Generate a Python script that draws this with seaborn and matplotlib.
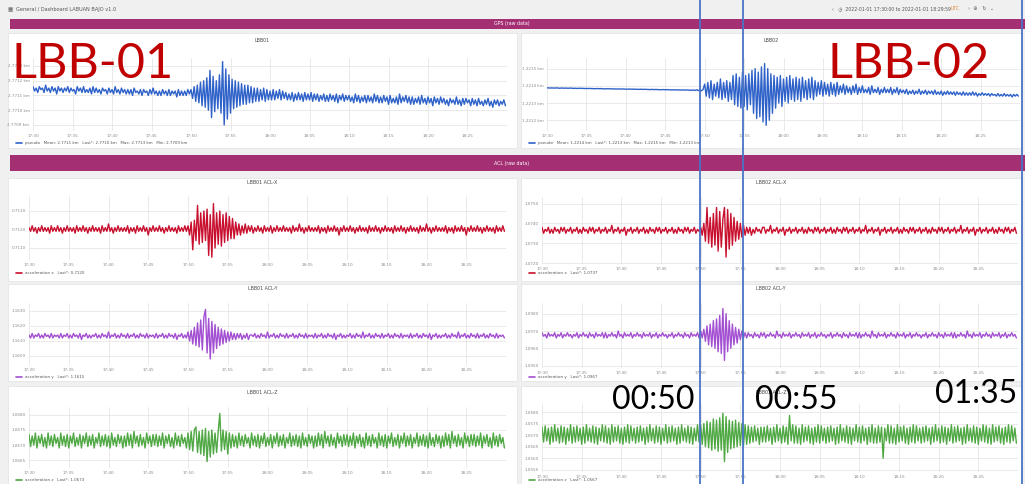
import numpy as np
import matplotlib
matplotlib.use("Agg")
import matplotlib.pyplot as plt
from matplotlib.lines import Line2D
from matplotlib.patches import Rectangle
import seaborn as sns

W, H = 1025, 484
STEP = 0.2  # minutes between samples (17:30 = 0), one row below = 4 minutes

time_ticks = [0, 5, 10, 15, 20, 25, 30, 35, 40, 45, 50, 55]
time_labels = ["17:30", "17:35", "17:40", "17:45", "17:50", "17:55",
               "18:00", "18:05", "18:10", "18:15", "18:20", "18:25"]

# ---- GPS traces (units of 1e-5 km around the panel centre) ----
lbb01_gps = [
    6, 3, 5, 2, 6, 4, 5, 2, 7, 3, 5, 2, 6, 3, 5, 1, 6, 3, 5, 2,
    5, 3, 6, 2, 5, 3, 4, 1, 6, 3, 5, 2, 6, 2, 4, 2, 5, 1, 6, 2,
    5, 2, 4, 1, 5, 3, 4, 1, 5, 2, 4, 1, 6, 2, 4, 1, 5, 2, 4, 1,
    4, 1, 4, 0, 5, 2, 3, 1, 4, 0, 4, 2, 3, 0, 4, 1, 5, 1, 3, 0,
    3, 0, 4, 1, 3, 0, 4, 0, 3, 1, 3, -1, 4, 0, 3, 0, 3, 0, 4, 1,
    4, -2, 6, -4, 7, -5, 9, -7, 10, -8, 12, -10, 17, -15, 13, -11, 10, -9, 14, -12,
    23, -20, 18, -16, 14, -12, 11, -9, 10, -8, 9, -7, 8, -6, 7, -6, 7, -5, 6, -5,
    5, -4, 5, -4, 4, -3, 5, -4, 4, -3, 3, -3, 4, -3, 3, -2, 4, -3, 3, -2,
    2, -3, 1, -3, 2, -4, 1, -3, 2, -3, 1, -4, 2, -3, 1, -3, 2, -4, 1, -3,
    1, -4, 0, -3, 1, -4, 0, -4, 1, -3, 0, -4, 1, -5, 0, -3, 1, -4, 0, -3,
    0, -4, -1, -5, 1, -4, 0, -5, -1, -4, 0, -5, 0, -4, -1, -5, 1, -4, 0, -5,
    -1, -5, 0, -4, -1, -6, 0, -5, -2, -5, -1, -6, 1, -5, -1, -4, 0, -5, -1, -6,
    -1, -6, -2, -5, -1, -6, 0, -5, -2, -6, -1, -5, -2, -7, -1, -5, -2, -6, -1, -5,
    -2, -6, -3, -7, -2, -5, -3, -6, -1, -6, -3, -7, -2, -6, -2, -5, -3, -7, -2, -6,
    -3, -7, -2, -6, -4, -7, -3, -6, -2, -7, -4, -8, -3, -6, -3, -7, -4, -6, -3, -7]
lbb02_gps = [
    8.8, 8.8, 8.7, 8.8, 8.7, 8.7, 8.8, 8.7, 8.6, 8.7, 8.7, 8.6, 8.7, 8.6, 8.6, 8.7, 8.6, 8.5, 8.6, 8.5,
    8.5, 8.6, 8.5, 8.5, 8.4, 8.5, 8.4, 8.5, 8.4, 8.4, 8.3, 8.4, 8.4, 8.3, 8.4, 8.3, 8.3, 8.2, 8.3, 8.3,
    8.2, 8.3, 8.2, 8.2, 8.1, 8.2, 8.2, 8.1, 8.2, 8.1, 8.1, 8.0, 8.1, 8.1, 8.0, 8.1, 8.0, 8.0, 7.9, 8.0,
    8.0, 7.9, 8.0, 7.9, 7.9, 7.8, 7.9, 7.9, 7.8, 7.9, 7.8, 7.8, 7.7, 7.8, 7.8, 7.7, 7.8, 7.7, 7.7, 7.6,
    7.7, 7.6, 7.7, 7.6, 7.6, 7.5, 7.6, 7.6, 7.5, 7.6, 7.5, 7.5, 7.4, 7.6, 7.3, 7.7, 7.2, 7.8, 7.1, 7.9,
    11, 4, 12, 3, 13, 2, 11, 4, 12, 3, 14, 2, 12, 3, 13, 1, 12, 2, 16, -1,
    17, -2, 15, -3, 18, -2, 16, -4, 17, -1, 19, -6, 20, -9, 18, -8, 21, -11, 23, -13,
    20, -10, 17, -6, 16, -3, 15, 0, 16, -2, 14, 1, 15, 0, 16, 2, 14, 1, 15, 2,
    14, 1, 15, 3, 13, 2, 14, 3, 15, 2, 13, 4, 12, 5, 13, 4, 12, 5, 11, 4,
    12, 5, 11, 4, 12, 5, 10, 6, 11, 5, 10, 6, 9, 5, 10, 6, 11, 5, 9, 6,
    10, 6, 8, 6, 9, 5, 10, 6, 8, 6, 9, 5, 8, 6, 9, 6, 8, 6, 9, 5,
    8, 6, 9, 5, 8, 6, 7.5, 5.5, 8, 5, 7, 5.5, 7.5, 5, 7, 5.5, 8, 5, 7, 5.5,
    7.5, 5, 7, 5.5, 7, 5, 7.5, 5, 6.5, 5, 7, 4.5, 6.5, 5, 7, 5, 6.5, 5, 6.5, 4.5,
    6.5, 5, 6, 4.5, 6.5, 4.5, 6, 4.5, 6, 4.5, 6.5, 4.5, 6, 4, 5.5, 4.5, 6, 4.5, 5.5, 4.5,
    5.5, 4, 5.5, 4.5, 5, 4, 5.5, 4, 5, 4, 5.5, 4, 5, 4, 5, 3.5, 5, 4, 5, 4]

# ---- accelerometer traces (units of 1e-4 g around the panel centre) ----
lbb01_acc_x = [
    1, -1, 2, -1, 1, -2, 1, -1, 2, -1, 1, -1, 1, -2, 2, -1, 1, -1, 2, -1,
    1, -2, 1, -1, 2, -1, 1, -1, 1, -2, 2, -1, 1, -1, 2, -1, 1, -2, 1, -1,
    2, -1, 1, -1, 1, -2, 2, -1, 1, -1, 3, -1, 1, -2, 1, -1, 2, -1, 1, -1,
    1, -1, 2, -2, 1, -1, 1, -2, 2, -1, 1, -1, 2, -1, 1, -3, 1, -1, 2, -1,
    1, -1, 2, -1, 1, -2, 1, -1, 2, -1, 1, -1, 1, -2, 2, -1, 1, -1, 2, -1,
    2, -3, 4, -11, 5, -6, 13, -8, 9, -7, 10, -6, 11, -14, 8, -15, 14, -10, 9, -8,
    10, -9, 8, -7, 9, -6, 7, -5, 6, -5, 4, -3, 3, -3, 2, -2, 3, -2, 2, -1,
    2, -2, 1, -1, 2, -1, 1, -2, 2, -1, 1, -1, 2, -2, 1, -1, 2, -1, 1, -1,
    2, -1, 1, -1, 1, -2, 2, -1, 1, -1, 3, -1, 1, -2, 1, -1, 2, -1, 1, -1,
    1, -1, 2, -2, 1, -1, 1, -2, 2, -1, 1, -1, 2, -1, 1, -3, 1, -1, 2, -1,
    1, -1, 2, -1, 1, -2, 1, -1, 2, -1, 1, -1, 1, -2, 2, -1, 1, -1, 2, -1,
    1, -2, 1, -1, 2, -1, 1, -1, 1, -2, 2, -1, 1, -1, 2, -1, 1, -2, 1, -1,
    2, -1, 1, -1, 1, -2, 2, -1, 1, -1, 3, -1, 1, -2, 1, -1, 2, -1, 1, -1,
    1, -1, 2, -2, 1, -1, 1, -2, 2, -1, 1, -1, 2, -1, 1, -3, 1, -1, 2, -1,
    1, -1, 2, -1, 1, -2, 1, -1, 2, -1, 1, -1, 1, -2, 2, -1, 1, -1, 2, -1]
lbb02_acc_x = [
    -2, -5, -3, -4, -2, -5, -3, -5, -2, -4, -3, -5, -2, -4, -2, -5, -3, -4, -2, -5,
    -3, -4, -2, -5, -3, -5, -2, -4, -3, -5, -2, -4, -2, -5, -3, -4, -2, -5, -3, -4,
    -2, -5, -3, -4, -1, -5, -3, -4, -2, -5, -3, -4, -2, -6, -3, -4, -2, -5, -3, -4,
    -2, -5, -3, -4, -2, -5, -3, -5, -2, -4, -3, -5, -2, -4, -2, -5, -3, -4, -2, -5,
    -3, -4, -2, -5, -3, -5, -2, -4, -3, -5, -2, -4, -2, -5, -3, -4, -2, -5, -3, -4,
    -2, -6, 0, -9, 8, -10, 3, -12, 5, -11, 8, -14, 6, -12, 2, 8, -17, 7, -13, 5,
    -11, 3, -9, 1, -8, 0, -7, -1, -6, -2, -5, -2, -6, -3, -5, -2, -4, -3, -5, -2,
    -2, -5, -3, -4, -1, -5, -3, -4, -2, -5, -3, -4, -2, -6, -3, -4, -2, -5, -3, -4,
    -2, -5, -3, -4, -2, -5, -3, -5, -2, -4, -3, -5, -2, -4, -2, -5, -3, -4, -2, -5,
    -3, -4, -2, -5, -3, -5, -2, -4, -3, -5, -2, -4, -2, -5, -3, -4, -2, -5, -3, -4,
    -2, -5, -3, -4, -1, -5, -3, -4, -2, -5, -3, -4, -2, -6, -3, -4, -2, -5, -3, -4,
    -2, -5, -3, -4, -2, -5, -3, -5, -2, -4, -3, -5, -2, -4, -2, -5, -3, -4, -2, -5,
    -3, -4, -2, -5, -3, -5, -2, -4, -3, -5, -2, -4, -2, -5, -3, -4, -2, -5, -3, -4,
    -2, -5, -3, -4, -1, -5, -3, -4, -2, -5, -3, -4, -2, -6, -3, -4, -2, -5, -3, -4,
    -2, -5, -3, -4, -2, -5, -3, -5, -2, -4, -3, -5, -2, -4, -2, -5, -3, -4, -2, -5]
lbb01_acc_y = [
    -6, -8, -5, -8, -6, -7, -5, -8, -6, -8, -5, -7, -6, -8, -5, -8, -6, -7, -6, -8,
    -5, -8, -6, -7, -5, -8, -6, -8, -5, -7, -6, -8, -5, -9, -6, -7, -5, -8, -6, -8,
    -6, -7, -5, -8, -6, -8, -5, -7, -6, -8, -4, -8, -6, -7, -5, -8, -6, -8, -5, -7,
    -6, -8, -5, -8, -6, -7, -5, -8, -6, -8, -5, -7, -6, -8, -5, -8, -6, -7, -6, -8,
    -5, -8, -6, -7, -5, -8, -6, -8, -5, -7, -6, -8, -5, -9, -6, -7, -5, -8, -6, -8,
    -4, -10, -3, -12, -1, -13, 2, -14, 4, -16, 6, 11, -18, 5, -22, 3, -18, 1, -15, -1,
    -13, -2, -12, -3, -11, -4, -10, -4, -9, -5, -9, -5, -8, -5, -9, -6, -8, -5, -9, -6,
    -6, -7, -5, -8, -6, -8, -5, -7, -6, -8, -4, -8, -6, -7, -5, -8, -6, -8, -5, -7,
    -6, -8, -5, -8, -6, -7, -5, -8, -6, -8, -5, -7, -6, -8, -5, -8, -6, -7, -6, -8,
    -5, -8, -6, -7, -5, -8, -6, -8, -5, -7, -6, -8, -5, -9, -6, -7, -5, -8, -6, -8,
    -6, -7, -5, -8, -6, -8, -5, -7, -6, -8, -4, -8, -6, -7, -5, -8, -6, -8, -5, -7,
    -6, -8, -5, -8, -6, -7, -5, -8, -6, -8, -5, -7, -6, -8, -5, -8, -6, -7, -6, -8,
    -5, -8, -6, -7, -5, -8, -6, -8, -5, -7, -6, -8, -5, -9, -6, -7, -5, -8, -6, -8,
    -6, -7, -5, -8, -6, -8, -5, -7, -6, -8, -4, -8, -6, -7, -5, -8, -6, -8, -5, -7,
    -6, -8, -5, -8, -6, -7, -5, -8, -6, -8, -5, -7, -6, -8, -5, -8, -6, -7, -6, -8]
lbb02_acc_y = [
    -1, -3, -2, -4, -1, -3, -2, -3, -1, -4, -2, -3, -1, -4, -2, -3, -1, -3, -2, -4,
    -2, -3, -1, -4, -2, -3, -1, -3, -2, -4, -1, -3, -2, -4, -1, -3, -2, -3, -1, -4,
    -1, -4, -2, -3, -1, -3, -2, -4, 0, -3, -2, -4, -1, -3, -2, -3, -1, -4, -2, -3,
    -1, -3, -2, -4, -1, -3, -2, -3, -1, -4, -2, -3, -1, -4, -2, -3, -1, -3, -2, -4,
    -2, -3, -1, -4, -2, -3, -1, -3, -2, -4, -1, -3, -2, -4, -1, -3, -2, -3, -1, -4,
    0, -4, 1, -6, 3, -8, 4, -9, 6, -10, 7, -12, 9, -13, 13, -17, 10, -12, 6, -10,
    4, -8, 2, -7, 1, -5, 0, -4, -1, -4, -1, -3, -2, -4, -1, -3, -2, -4, -1, -3,
    -1, -4, -2, -3, -1, -3, -2, -4, 0, -3, -2, -4, -1, -3, -2, -3, -1, -4, -2, -3,
    -1, -3, -2, -4, -1, -3, -2, -3, -1, -4, -2, -3, -1, -4, -2, -3, -1, -3, -2, -4,
    -2, -3, -1, -4, -2, -3, -1, -3, -2, -4, -1, -3, -2, -4, -1, -3, -2, -3, -1, -4,
    -1, -4, -2, -3, -1, -3, -2, -4, 0, -3, -2, -4, -1, -3, -2, -3, -1, -4, -2, -3,
    -1, -3, -2, -4, -1, -3, -2, -3, -1, -4, -2, -3, -1, -4, -2, -3, -1, -3, -2, -4,
    -2, -3, -1, -4, -2, -3, -1, -3, -2, -4, -1, -3, -2, -4, -1, -3, -2, -3, -1, -4,
    -1, -4, -2, -3, -1, -3, -2, -4, 0, -3, -2, -4, -1, -3, -2, -3, -1, -4, -2, -3,
    -1, -3, -2, -4, -1, -3, -2, -3, -1, -4, -2, -3, -1, -4, -2, -3, -1, -3, -2, -4]
lbb01_acc_z = [
    7, -1, 6, 0, 8, -2, 6, 1, 7, -1, 5, -2, 8, 0, 6, -1, 7, 1, 5, -2,
    8, 0, 6, -1, 7, -2, 6, 1, 8, -1, 5, 0, 7, -2, 6, 1, 8, -1, 6, 0,
    7, -2, 5, 1, 8, -1, 6, 0, 7, -1, 6, -2, 8, 0, 5, -1, 7, 1, 6, -2,
    6, -1, 8, 0, 7, -2, 9, 1, 6, -1, 7, 0, 5, -2, 8, 1, 6, -1, 7, 0,
    7, -1, 6, 0, 8, -2, 6, 1, 7, -1, 5, -2, 8, 0, 6, -1, 7, 1, 5, -2,
    8, -3, 9, -4, 10, 12, -5, 9, -6, 10, -7, 11, -11, 9, -8, 10, -6, 8, -5, 9,
    21, -4, 10, -3, 9, -6, 8, -2, 7, -1, 6, -2, 8, 0, 6, -1, 7, 1, 5, -2,
    8, 0, 6, -1, 7, -2, 6, 1, 8, -1, 5, 0, 7, -2, 6, 1, 8, -1, 6, 0,
    7, -2, 5, 1, 8, -1, 6, 0, 7, -1, 6, -2, 8, 0, 5, -1, 7, 1, 6, -2,
    6, -1, 8, 0, 7, -2, 9, 1, 6, -1, 7, 0, 5, -2, 8, 1, 6, -1, 7, 0,
    7, -1, 6, 0, 8, -2, 6, 1, 7, -1, 5, -2, 8, 0, 6, -1, 7, 1, 5, -2,
    8, 0, 6, -1, 7, -2, 6, 1, 8, -1, 5, 0, 7, -2, 6, 1, 8, -1, 6, 0,
    7, -2, 5, 1, 8, -1, 6, 0, 7, -1, 6, -2, 8, 0, 5, -1, 7, 1, 6, -2,
    6, -1, 8, 0, 7, -2, 9, 1, 6, -1, 7, 0, 5, -2, 8, 1, 6, -1, 7, 0,
    7, -1, 6, 0, 8, -2, 6, 1, 7, -1, 5, -2, 8, 0, 6, -1, 7, 1, 5, -2]
lbb02_acc_z = [
    7, -6, 8, -5, 6, -8, 7, -6, 9, -5, 6, -7, 8, -6, 7, -8, 6, -5, 9, -7,
    7, -6, 8, -5, 6, -8, 7, -7, 9, -5, 6, -6, 8, -7, 7, -8, 6, -5, 9, -6,
    8, -7, 6, -8, 9, -6, 7, -5, 8, -7, 6, -8, 7, -6, 9, -7, 8, -5, 6, -7,
    7, -6, 8, -5, 6, -8, 7, -6, 9, -5, 6, -7, 8, -6, 7, -8, 6, -5, 9, -7,
    7, -6, 8, -5, 6, -8, 7, -7, 9, -5, 6, -6, 8, -7, 7, -8, 6, -5, 9, -6,
    9, -8, 10, -10, 12, -11, 11, -13, 14, -12, 13, -14, 15, -13, 19, -23, 16, -15, 13, -12,
    12, -11, 13, -10, 11, -9, 10, -9, 9, -8, 8, -7, 7, -6, 8, -5, 6, -8, 7, -6,
    7, -6, 8, -5, 6, -8, 7, -6, 9, -5, 6, -7, 8, -6, 7, -8, 17, -5, 9, -7,
    8, -7, 6, -8, 9, -6, 7, -5, 8, -7, 6, -8, 7, -6, 9, -7, 8, -5, 6, -7,
    7, -6, 8, -5, 6, -8, 7, -7, 9, -5, 6, -6, 8, -7, 7, -8, 6, -5, 9, -6,
    7, -7, 8, -5, 6, -8, 7, -6, 9, -7, 6, -7, 8, -6, 7, -20, 6, -5, 9, -7,
    8, -7, 6, -8, 9, -6, 7, -5, 8, -7, 6, -8, 7, -6, 9, -7, 8, -5, 6, -7,
    7, -6, 8, -5, 6, -8, 7, -6, 9, -5, 6, -7, 8, -6, 7, -8, 6, -5, 9, -7,
    7, -6, 8, -5, 6, -8, 7, -7, 9, -5, 6, -6, 8, -7, 7, -8, 6, -5, 9, -6,
    8, -7, 6, -8, 9, -6, 7, -5, 8, -7, 6, -8, 7, -6, 9, -7, 8, -5, 6, -7]

# ---- y tick values and their labels ----
gps01_ticks = [-20, -10, 0, 10, 20]
gps01_labels = ["2.7709 km", "2.7710 km", "2.7711 km", "2.7712 km", "2.7713 km"]
gps02_ticks = [-10, 0, 10, 20]
gps02_labels = ["1.2212 km", "1.2213 km", "1.2214 km", "1.2215 km"]
x01_ticks = [-10, 0, 10]
x01_labels = ["0.7110", "0.7120", "0.7130"]
x02_ticks = [-20, -10, 0, 10]
x02_labels = ["1.0720", "1.0730", "1.0740", "1.0750"]
y01_ticks = [-20, -10, 0, 10]
y01_labels = ["1.1600", "1.1610", "1.1620", "1.1630"]
y02_ticks = [-20, -10, 0, 10]
y02_labels = ["1.0950", "1.0960", "1.0970", "1.0980"]
z01_ticks = [-10, 0, 10, 20]
z01_labels = ["1.0665", "1.0670", "1.0675", "1.0680"]
z02_ticks = [-30, -20, -10, 0, 10, 20]
z02_labels = ["1.0555", "1.0560", "1.0565", "1.0570", "1.0575", "1.0580"]

BLUE, RED, PURPLE, GREEN = "#2f62c9", "#c8102e", "#a34fd1", "#4fa843"
MAGENTA = "#a52f73"

sns.set_theme(style="white")
plt.rcParams["font.family"] = ["DejaVu Sans"]

fig = plt.figure(figsize=(W / 100, H / 100), dpi=100)
fig.patch.set_facecolor("#f0f0f0")


def fx(x):
    return x / W


def fy(y):
    return 1 - y / H


def rect(x0, y0, x1, y1, fc, ec="none", z=-2):
    fig.add_artist(Rectangle((fx(x0), fy(y1)), (x1 - x0) / W, (y1 - y0) / H,
                             transform=fig.transFigure, facecolor=fc,
                             edgecolor=ec, lw=0.5, zorder=z))


def ftext(x, y, s, **kw):
    fig.text(fx(x), fy(y), s, **kw)


# header
ftext(8, 10, "\u25a6", fontsize=4, color="#666", va="center")
ftext(16, 10, "General / Dashboard LABUAN BAJO v1.0", fontsize=3.6, color="#555", va="center")
ftext(832, 9, "\u2039   \u25f7  2022-01-01 17:30:00 to 2022-01-01 18:29:59", fontsize=3.3,
      color="#555", va="center")
ftext(951, 9, "UTC", fontsize=3.3, color="#e08a2a", va="center")
ftext(968, 9, "\u203a  \u2295   \u21bb  \u2304", fontsize=3.6, color="#666", va="center")

# row bars
rect(10, 19, 1025, 29, MAGENTA)
ftext(512, 24, "GPS (raw data)", fontsize=3.4, color="white", ha="center", va="center")
rect(10, 155, 1025, 171, MAGENTA)
ftext(512, 163, "ACL (raw data)", fontsize=3.4, color="white", ha="center", va="center")

panels = [
    dict(title="LBB01", vals=lbb01_gps, color=BLUE, yt=gps01_ticks, yl=gps01_labels,
         legend="pseudo   Mean: 2.7711 km   Last*: 2.7710 km   Max: 2.7713 km   Min: 2.7709 km",
         box=(8, 33, 517, 148), ax=(33, 58, 507, 131), ylim=(-24.1, 25.4), ty=40, ly=143),
    dict(title="LBB02", vals=lbb02_gps, color=BLUE, yt=gps02_ticks, yl=gps02_labels,
         legend="pseudo   Mean: 1.2214 km   Last*: 1.2213 km   Max: 1.2215 km   Min: 1.2213 km",
         box=(521, 33, 1021, 148), ax=(547, 58, 1020, 131), ylim=(-16.3, 26.2), ty=40, ly=143),
    dict(title="LBB01 ACL-X", vals=lbb01_acc_x, color=RED, yt=x01_ticks, yl=x01_labels,
         legend="acceleration x   Last*: 0.7120",
         box=(8, 178, 517, 281), ax=(29, 196, 506, 260), ylim=(-16.5, 18.1), ty=183, ly=273),
    dict(title="LBB02 ACL-X", vals=lbb02_acc_x, color=RED, yt=x02_ticks, yl=x02_labels,
         legend="acceleration x   Last*: 1.0737",
         box=(521, 178, 1021, 281), ax=(542, 197, 1018, 264), ylim=(-20.5, 13.3), ty=183, ly=273),
    dict(title="LBB01 ACL-Y", vals=lbb01_acc_y, color=PURPLE, yt=y01_ticks, yl=y01_labels,
         legend="acceleration y   Last*: 1.1615",
         box=(8, 284, 517, 381), ax=(29, 303, 506, 365), ylim=(-26.0, 15.3), ty=288, ly=377),
    dict(title="LBB02 ACL-Y", vals=lbb02_acc_y, color=PURPLE, yt=y02_ticks, yl=y02_labels,
         legend="acceleration y   Last*: 1.0967",
         box=(521, 284, 1021, 381), ax=(542, 303, 1018, 368), ylim=(-21.4, 16.2), ty=288, ly=377),
    dict(title="LBB01 ACL-Z", vals=lbb01_acc_z, color=GREEN, yt=z01_ticks, yl=z01_labels,
         legend="acceleration z   Last*: 1.0673",
         box=(8, 386, 517, 490), ax=(29, 407, 506, 468), ylim=(-15.3, 25.3), ty=392, ly=480),
    dict(title="LBB02 ACL-Z", vals=lbb02_acc_z, color=GREEN, yt=z02_ticks, yl=z02_labels,
         legend="acceleration z   Last*: 1.0567",
         box=(521, 386, 1021, 490), ax=(542, 404, 1018, 472), ylim=(-32.0, 27.0), ty=392, ly=480),
]

for p in panels:
    bx0, by0, bx1, by1 = p["box"]
    rect(bx0, by0, bx1, by1, "white", ec="#e2e2e2")
    ftext((bx0 + bx1) / 2, p["ty"], p["title"], fontsize=3.4, color="#444",
          ha="center", va="center")

    x0, y0, x1, y1 = p["ax"]
    ax = fig.add_axes([fx(x0), fy(y1), (x1 - x0) / W, (y1 - y0) / H])
    ax.set_facecolor("none")
    t = np.arange(len(p["vals"])) * STEP
    sns.lineplot(x=t, y=p["vals"], ax=ax, color=p["color"], lw=1.0, estimator=None)
    ax.set_xlim(0, 60)
    ax.set_ylim(*p["ylim"])
    ax.set_xticks(time_ticks)
    ax.set_xticklabels(time_labels)
    ax.set_yticks(p["yt"])
    ax.set_yticklabels(p["yl"])
    ax.tick_params(labelsize=3.0, colors="#8a8a8a", length=0, pad=2.5)
    ax.grid(True, color="#e6e6e6", lw=0.6)
    ax.set_axisbelow(True)
    for s in ax.spines.values():
        s.set_visible(False)
    ax.set_xlabel("")
    ax.set_ylabel("")

    lx = bx0 + 8
    fig.add_artist(Line2D([fx(lx), fx(lx + 6)], [fy(p["ly"])] * 2, color=p["color"],
                          lw=1.2, transform=fig.transFigure))
    ftext(lx + 9, p["ly"], p["legend"], fontsize=2.9, color="#555", va="center")

# annotations added on the screenshot
ftext(12, 78, "LBB-01", fontsize=35, color="#c00000", family="Lato", va="baseline", zorder=20)
ftext(828, 78, "LBB-02", fontsize=35, color="#c00000", family="Lato", va="baseline", zorder=20)
ftext(612, 409, "00:50", fontsize=23, color="black", family="Lato", va="baseline", zorder=20)
ftext(755, 409, "00:55", fontsize=23, color="black", family="Lato", va="baseline", zorder=20)
ftext(935, 403, "01:35", fontsize=23, color="black", family="Lato", va="baseline", zorder=20)

for xv in (700, 743, 1022):
    fig.add_artist(Line2D([fx(xv)] * 2, [0, 1], color="#4a74c6", lw=1.3,
                          transform=fig.transFigure, zorder=15))

fig.savefig("out.png", dpi=100)
